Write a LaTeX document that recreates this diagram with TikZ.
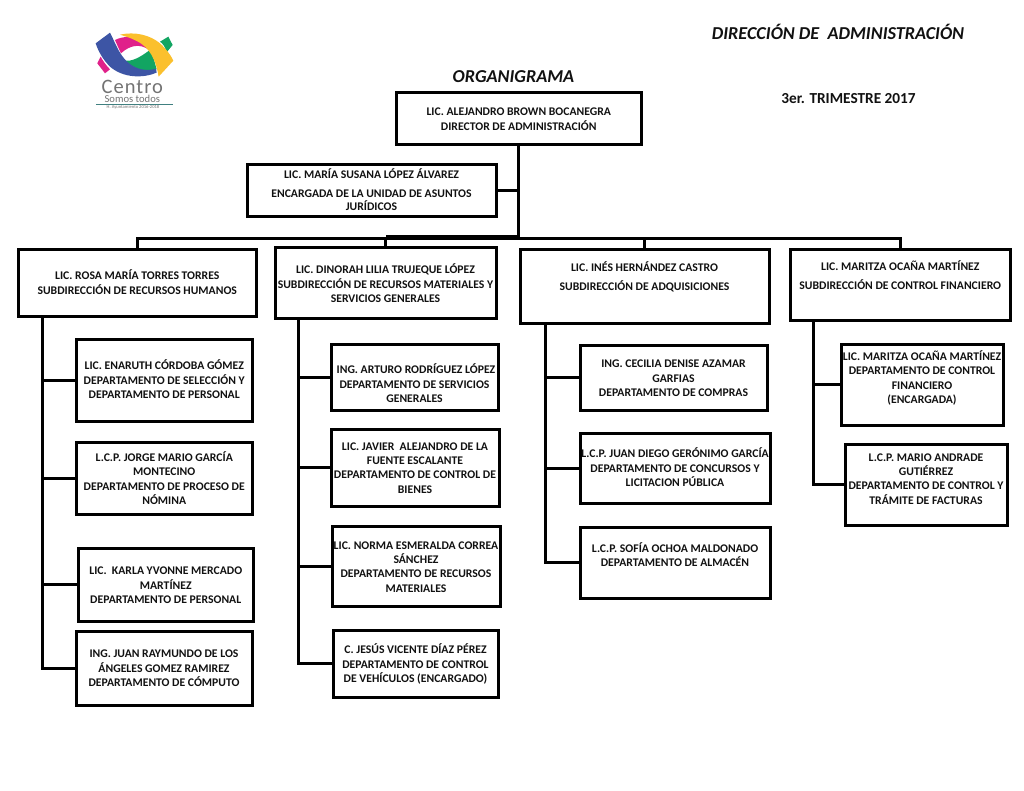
\documentclass[tikz,border=0pt]{standalone}
\usepackage{fontspec}
\setmainfont{Carlito}
\definecolor{ink}{HTML}{111111}
\definecolor{logoblue}{HTML}{3D55A5}
\definecolor{logopink}{HTML}{E0218A}
\definecolor{logogreen}{HTML}{12A562}
\definecolor{logoyellow}{HTML}{FBC02D}
\tikzset{
 boxnode/.style={draw=black,line width=3pt,rectangle,inner sep=0pt,outer sep=0pt,text=ink,font=\fontsize{11.7}{14.3}\selectfont\bfseries},
 conn/.style={draw=black,line width=3pt,line cap=butt,line join=miter},
 title/.style={inner sep=0pt,outer sep=0pt,text=ink,font=\bfseries\itshape},
 logotext/.style={inner sep=0pt,outer sep=0pt,text=black!55,anchor=base}
}
\newcommand{\bx}[7]{%
 \pgfmathsetmacro{\bxw}{#4-#2}\pgfmathsetmacro{\bxh}{#5-#3}%
 \pgfmathsetmacro{\bxcx}{(#4+#2)/2}\pgfmathsetmacro{\bxcy}{(#5+#3)/2}%
 \pgfmathsetmacro{\bxdy}{\bxcy-#6-4.2}%
 \node[boxnode,minimum width=\bxw pt,minimum height=\bxh pt] (#1) at (\bxcx,\bxcy)
 {\raisebox{\bxdy pt}[0pt][0pt]{\begin{tabular}{@{}c@{}}#7\end{tabular}}};%
}
\begin{document}
\begin{tikzpicture}[x=1pt,y=-1pt]
\useasboundingbox (0,0) rectangle (1024,791);
% logo
\begin{scope}[shift={(60,10)},x=0.3333pt,y=-0.3333pt]
 \fill[logogreen] (300,95) -- (325,80) -- (338,105) -- (320,127) .. controls (316,112) and (310,102) .. cycle;
 \fill[logopink] (112,160) -- (122,140) .. controls (130,155) and (140,168) .. (150,178) -- (135,190) -- cycle;
 \fill[logopink] (165,90) .. controls (190,78) and (215,78) .. (240,92) .. controls (255,100) and (262,110) .. (268,120) .. controls (240,100) and (210,105) .. (183,130) .. controls (176,115) and (170,102) .. cycle;
 \fill[logogreen] (190,150) .. controls (215,160) and (250,135) .. (272,118) .. controls (280,140) and (285,160) .. (290,178) .. controls (260,188) and (225,180) .. cycle;
 \fill[logoblue] (107,100) -- (150,68) .. controls (170,105) and (185,165) .. (245,178) .. controls (260,181) and (275,180) .. (288,176) -- (290,188) .. controls (250,205) and (190,205) .. (150,170) .. controls (130,150) and (115,125) .. cycle;
 \fill[logoyellow] (180,74) .. controls (225,64) and (270,75) .. (300,100) .. controls (320,118) and (335,140) .. (340,152) -- (296,200) .. controls (290,165) and (278,125) .. (245,102) .. controls (225,88) and (205,82) .. cycle;
 \node[logotext,font=\fontsize{20.5}{20}\addfontfeature{LetterSpace=5}] (logoA) at (217,252) {Centro};
 \node[logotext,font=\fontsize{10.6}{12}\selectfont] (logoB) at (217,278) {Somos todos};
 \draw[teal!50!gray,line width=0.5pt] (108,283) -- (340,283);
 \node[logotext,font=\fontsize{4.6}{5}\selectfont] (logoC) at (219,296) {H. Ayuntamiento 2016-2018};
\end{scope}
% titles
\node[title,font=\fontsize{18.2}{20}\selectfont\bfseries\itshape] (t1) at (838,32) {DIRECCIÓN DE\ \ ADMINISTRACIÓN};
\node[title,font=\fontsize{18.2}{20}\selectfont\bfseries\itshape] (t2) at (513.5,77) {ORGANIGRAMA};
\node[title,font=\fontsize{15.3}{16}\selectfont\bfseries] (t3) at (848.5,99) {3er. TRIMESTRE 2017};
% boxes
\bx{dir}{396.5}{93}{641}{145}{119}{LIC. ALEJANDRO BROWN BOCANEGRA\\DIRECTOR DE ADMINISTRACIÓN}
\bx{jur}{247}{165}{496}{216.5}{190.5}{LIC. MARÍA SUSANA LÓPEZ ÁLVAREZ\\[4pt]ENCARGADA DE LA UNIDAD DE ASUNTOS\\[-1pt]JURÍDICOS}
\bx{rosa}{18}{250}{256.5}{316.5}{283}{LIC. ROSA MARÍA TORRES TORRES\\SUBDIRECCIÓN DE RECURSOS HUMANOS}
\bx{dino}{275}{248}{496}{318}{284}{LIC. DINORAH LILIA TRUJEQUE LÓPEZ\\SUBDIRECCIÓN DE RECURSOS MATERIALES Y\\SERVICIOS GENERALES}
\bx{ines}{520}{250}{769}{323}{277}{LIC. INÉS HERNÁNDEZ CASTRO\\[4pt]SUBDIRECCIÓN DE ADQUISICIONES}
\bx{mar}{790.5}{250}{1010}{320}{276}{LIC. MARITZA OCAÑA MARTÍNEZ\\[4pt]SUBDIRECCIÓN DE CONTROL FINANCIERO}
\bx{ena}{76}{339}{252.5}{421}{380}{LIC. ENARUTH CÓRDOBA GÓMEZ\\DEPARTAMENTO DE SELECCIÓN Y\\DEPARTAMENTO DE PERSONAL}
\bx{jor}{76}{442}{252.5}{514}{479}{L.C.P. JORGE MARIO GARCÍA\\MONTECINO\\DEPARTAMENTO DE PROCESO DE\\NÓMINA}
\bx{kar}{78}{548}{253.5}{621}{585}{LIC.\ \ KARLA YVONNE MERCADO\\MARTÍNEZ\\DEPARTAMENTO DE PERSONAL}
\bx{jua}{76}{631}{252}{705}{668}{ING. JUAN RAYMUNDO DE LOS\\ÁNGELES GOMEZ RAMIREZ\\DEPARTAMENTO DE CÓMPUTO}
\bx{art}{331}{344}{498}{410}{384}{\hspace{3pt}ING. ARTURO RODRÍGUEZ LÓPEZ\\DEPARTAMENTO DE SERVICIOS\\GENERALES}
\bx{jav}{331}{429}{499}{506}{467.5}{LIC. JAVIER\ \ ALEJANDRO DE LA\\FUENTE ESCALANTE\\DEPARTAMENTO DE CONTROL DE\\BIENES}
\bx{nor}{332}{526}{500}{606}{566.5}{LIC. NORMA ESMERALDA CORREA\\SÁNCHEZ\\DEPARTAMENTO DE RECURSOS\\MATERIALES}
\bx{jes}{333}{630}{498}{697.5}{664}{C. JESÚS VICENTE DÍAZ PÉREZ\\DEPARTAMENTO DE CONTROL\\DE VEHÍCULOS (ENCARGADO)}
\bx{cec}{580}{345}{767}{410.5}{378}{ING. CECILIA DENISE AZAMAR\\GARFIAS\\DEPARTAMENTO DE COMPRAS}
\bx{jdg}{580}{433}{770}{503}{468}{L.C.P. JUAN DIEGO GERÓNIMO GARCÍA\\DEPARTAMENTO DE CONCURSOS Y\\LICITACION PÚBLICA}
\bx{sof}{580}{527}{770}{598}{555.5}{L.C.P. SOFÍA OCHOA MALDONADO\\DEPARTAMENTO DE ALMACÉN}
\bx{mo2}{841}{344}{1003}{425}{378}{LIC. MARITZA OCAÑA MARTÍNEZ\\DEPARTAMENTO DE CONTROL\\FINANCIERO\\(ENCARGADA)}
\bx{mad}{845}{444}{1007}{525}{478.5}{L.C.P. MARIO ANDRADE\\GUTIÉRREZ\\DEPARTAMENTO DE CONTROL Y\\TRÁMITE DE FACTURAS}
% connectors
\coordinate (bus) at (519,239);
\coordinate (thick) at (519,237);
\coordinate (trR) at (42,317);
\coordinate (trD) at (298,318);
\coordinate (trI) at (545,323);
\coordinate (trM) at (813,320);
\draw[conn] (dir.south) -- (dir.south |- bus);
\draw[conn] (jur.east) -- (jur.east -| dir.south);
\draw[conn] (rosa.north) -- (rosa.north |- bus) -- (mar.north |- bus) -- (mar.north);
\draw[conn] (dir.south |- thick) -- (dino.north |- thick);
\draw[conn] (dino.north |- bus) -- (dino.north);
\draw[conn] (ines.north |- bus) -- (ines.north);
\draw[conn] (trR) -- (trR |- jua.west) -- (jua.west);
\draw[conn] (trR |- ena.west) -- (ena.west);
\draw[conn] (trR |- jor.west) -- (jor.west);
\draw[conn] (trR |- kar.west) -- (kar.west);
\draw[conn] (trD) -- (trD |- jes.west) -- (jes.west);
\draw[conn] (trD |- art.west) -- (art.west);
\draw[conn] (trD |- jav.west) -- (jav.west);
\draw[conn] (trD |- nor.west) -- (nor.west);
\draw[conn] (trI) -- (trI |- sof.west) -- (sof.west);
\draw[conn] (trI |- cec.west) -- (cec.west);
\draw[conn] (trI |- jdg.west) -- (jdg.west);
\draw[conn] (trM) -- (trM |- mad.west) -- (mad.west);
\draw[conn] (trM |- mo2.west) -- (mo2.west);
\end{tikzpicture}
\end{document}
